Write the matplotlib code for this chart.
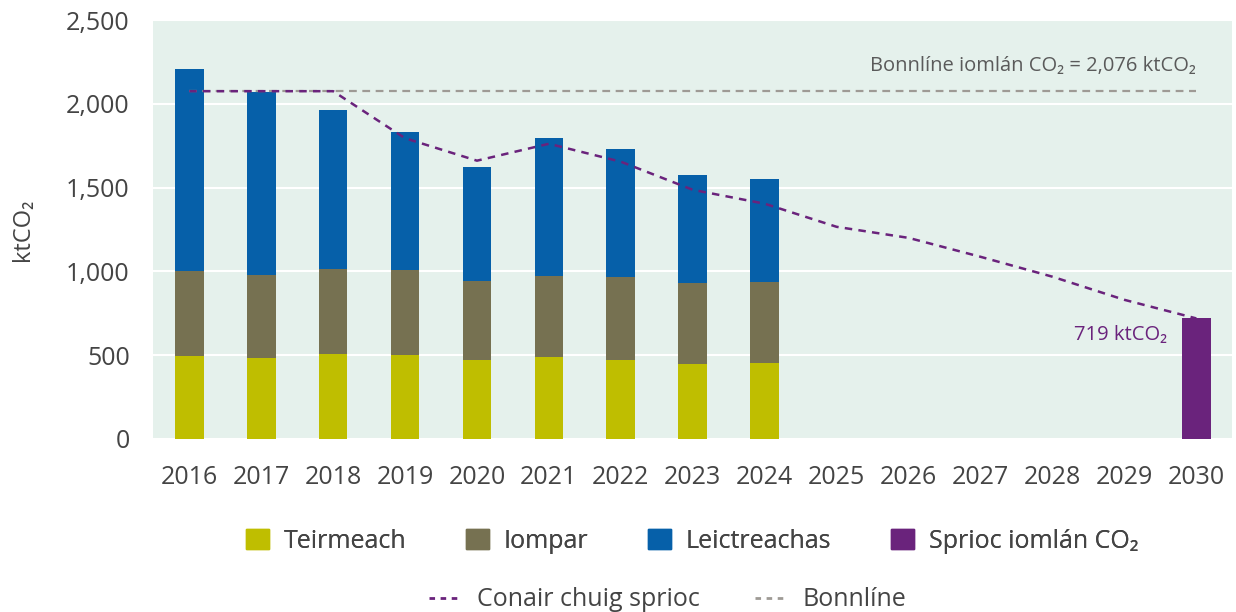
import matplotlib.pyplot as plt
from matplotlib.lines import Line2D
from matplotlib.patches import Patch

plt.rcParams['font.family'] = ['Open Sans', 'DejaVu Sans']

# data
years = list(range(2016, 2031))
hist_years = [2016, 2017, 2018, 2019, 2020, 2021, 2022, 2023, 2024]
thermal = [496, 484, 508, 502, 472, 490, 472, 448, 454]
transport = [508, 496, 508, 508, 472, 484, 496, 484, 484]
electricity = [1207, 1093, 949, 824, 681, 824, 764, 645, 615]
target_year = 2030
target_value = 719
baseline = 2076
pathway = [2076, 2076, 2076, 1795, 1661, 1762, 1655, 1487, 1404,
           1266, 1200, 1087, 968, 830, 719]

c_thermal = '#BFBE00'
c_transport = '#767151'
c_elec = '#0660A9'
c_target = '#6A237C'
c_base = '#9E9A95'
c_text = '#444444'

fig = plt.figure(figsize=(12.36, 6.12), dpi=100)
ax = fig.add_axes([0.124, 0.283, 0.873, 0.684])
ax.set_facecolor('#E5F1EC')

w = 0.4
bottom2 = [a + b for a, b in zip(thermal, transport)]
ax.bar(hist_years, thermal, w, color=c_thermal, zorder=2)
ax.bar(hist_years, transport, w, bottom=thermal, color=c_transport, zorder=2)
ax.bar(hist_years, electricity, w, bottom=bottom2, color=c_elec, zorder=2)
ax.bar([target_year], [target_value], w, color=c_target, zorder=2)

ax.plot(years, [baseline] * len(years), color=c_base, lw=1.6,
        dashes=(3.5, 2.5), zorder=3)
ax.plot(years, pathway, color=c_target, lw=1.8, dashes=(3, 2.5), zorder=4)

ax.text(2030, 2165, 'Bonnlíne iomlán CO₂ = 2,076 ktCO₂', ha='right',
        va='bottom', color='#5A5A5A', fontsize=14.5)
ax.text(2029.6, 560, '719 ktCO₂', ha='right', va='bottom',
        color=c_target, fontsize=14.5)

ax.set_xlim(2015.5, 2030.5)
ax.set_ylim(0, 2500)
ax.set_xticks(years)
ax.set_yticks(range(0, 2501, 500))
ax.set_yticklabels([f'{v:,}' for v in range(0, 2501, 500)])
ax.grid(axis='y', color='white', lw=1.5, zorder=1)
ax.set_axisbelow(True)
for s in ax.spines.values():
    s.set_visible(False)
ax.tick_params(length=0, labelsize=18, colors=c_text)
ax.tick_params(axis='x', pad=19)
ax.tick_params(axis='y', pad=17)
ax.set_ylabel('ktCO₂', fontsize=17, color=c_text, labelpad=22)

h1 = [Patch(color=c_thermal), Patch(color=c_transport),
      Patch(color=c_elec), Patch(color=c_target)]
l1 = ['Teirmeach', 'Iompar', 'Leictreachas', 'Sprioc iomlán CO₂']
leg1 = fig.legend(h1, l1, loc='center', bbox_to_anchor=(0.56, 0.116),
                  ncol=4, frameon=False, fontsize=18, handlelength=0.9,
                  handleheight=0.9, handletextpad=0.6, columnspacing=2.4,
                  labelcolor=c_text)

h2 = [Line2D([], [], color=c_target, lw=2, dashes=(2, 2)),
      Line2D([], [], color=c_base, lw=2, dashes=(2, 2))]
l2 = ['Conair chuig sprioc', 'Bonnlíne']
fig.legend(h2, l2, loc='center', bbox_to_anchor=(0.54, 0.02),
           ncol=2, frameon=False, fontsize=18, handlelength=1.3,
           handletextpad=0.6, columnspacing=2.2, labelcolor=c_text)
fig.add_artist(leg1)

fig.savefig('out.png', dpi=100)
